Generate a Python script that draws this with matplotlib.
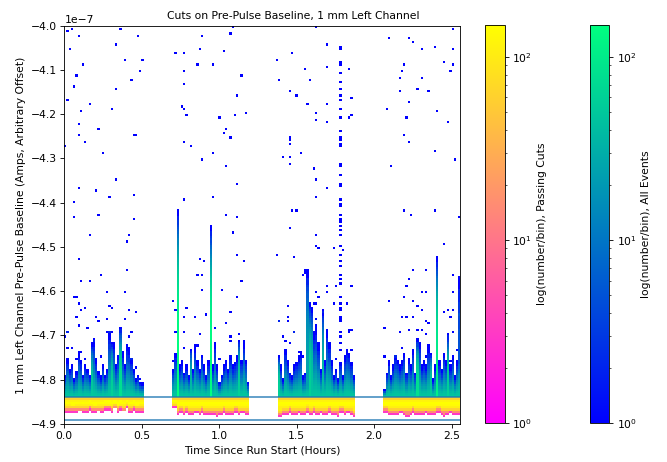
import numpy as np
import matplotlib
matplotlib.use('Agg')
import matplotlib.pyplot as plt
from matplotlib.colors import LogNorm

# data-taking periods (hours since run start)
seg_start = [0.0, 0.69, 1.375, 2.06]
seg_end = [0.505, 1.19, 1.875, 2.557]

# upper edge of the dense baseline cloud per time bin (units of 1e-7 A)
top_1 = [-4.790, -4.753, -4.776, -4.768, -4.798, -4.783, -4.738, -4.757, -4.791, -4.768,
         -4.776, -4.791, -4.753, -4.708, -4.753, -4.783, -4.794, -4.768, -4.791, -4.779,
         -4.693, -4.738, -4.715, -4.768, -4.745, -4.685, -4.738, -4.768, -4.723, -4.730,
         -4.753, -4.776, -4.798, -4.791, -4.806, -4.809]
top_2 = [-4.775, -4.740, -4.732, -4.770, -4.760, -4.785, -4.770, -4.792, -4.750, -4.777,
         -4.725, -4.760, -4.777, -4.745, -4.770, -4.792, -4.760, -4.740, -4.770, -4.717,
         -4.770, -4.807, -4.790, -4.770, -4.760, -4.777, -4.745, -4.770, -4.762, -4.747,
         -4.735, -4.755, -4.713, -4.755, -4.807]
top_3 = [-4.747, -4.770, -4.800, -4.732, -4.760, -4.785, -4.792, -4.770, -4.762, -4.747,
         -4.735, -4.792, -4.785, -4.760, -4.770, -4.700, -4.690, -4.679, -4.720, -4.777,
         -4.747, -4.760, -4.687, -4.717, -4.760, -4.792, -4.777, -4.800, -4.762, -4.792,
         -4.747, -4.730, -4.740, -4.762, -4.792]
top_4 = [-4.822, -4.785, -4.760, -4.792, -4.770, -4.745, -4.755, -4.770, -4.758, -4.740,
         -4.785, -4.755, -4.770, -4.730, -4.785, -4.770, -4.717, -4.770, -4.760, -4.770,
         -4.725, -4.740, -4.800, -4.770, -4.750, -4.760, -4.777, -4.740, -4.760, -4.702,
         -4.770, -4.745, -4.792, -4.760, -4.725]
cloud_tops = [top_1, top_2, top_3, top_4]

# lower edge of the events passing the cut, every ~0.02 h
floor_1 = [-4.875, -4.873, -4.876, -4.874, -4.872, -4.875, -4.873, -4.870, -4.874, -4.876,
           -4.872, -4.874, -4.870, -4.868, -4.873, -4.866, -4.876, -4.868, -4.872, -4.865,
           -4.874, -4.870, -4.876, -4.873, -4.875]
floor_2 = [-4.865, -4.878, -4.876, -4.880, -4.876, -4.879, -4.882, -4.877, -4.880, -4.876,
           -4.878, -4.881, -4.879, -4.880, -4.883, -4.878, -4.876, -4.879, -4.882, -4.878,
           -4.876, -4.880, -4.877, -4.879, -4.881]
floor_3 = [-4.884, -4.878, -4.881, -4.876, -4.879, -4.880, -4.877, -4.878, -4.882, -4.875,
           -4.879, -4.876, -4.880, -4.877, -4.882, -4.879, -4.876, -4.880, -4.878, -4.883,
           -4.876, -4.879, -4.877, -4.880, -4.884]
floor_4 = [-4.876, -4.880, -4.882, -4.878, -4.880, -4.877, -4.879, -4.883, -4.880, -4.876,
           -4.882, -4.878, -4.880, -4.877, -4.879, -4.882, -4.878, -4.876, -4.880, -4.883,
           -4.879, -4.877, -4.881, -4.879, -4.882]
band_floors = [floor_1, floor_2, floor_3, floor_4]

# counts per bin going down from the upper cut
band_profile = [60, 120, 150, 140, 110, 60, 15, 3]
cloud_peak = 50

# narrow bursts that reach well above the cloud
spike_t = [0.175, 0.300, 0.364, 0.735, 0.820, 0.950, 1.134, 1.380, 1.575, 1.590,
           1.604, 1.672, 2.274, 2.360, 2.410, 2.475, 2.550]
spike_top = [-4.720, -4.715, -4.683, -4.415, -4.730, -4.452, -4.710, -4.747, -4.555, -4.626,
             -4.640, -4.645, -4.709, -4.740, -4.523, -4.700, -4.565]
spike_peak = [50, 60, 80, 150, 40, 150, 60, 60, 25, 60, 45, 40, 80, 50, 110, 60, 6]

# single stray events
stray_t = [0.028, 0.050, 0.093, 0.359, 0.480, 0.893, 1.082, 1.067, 1.624, 2.508,
           0.041, 0.338, 0.712, 0.779, 0.867, 1.030, 1.467, 1.699, 2.222, 2.254,
           2.099, 2.312, 2.396, 2.508, 0.119, 0.396, 0.499, 0.854, 0.957, 1.377,
           1.835, 1.557, 1.699, 2.189, 2.454, 2.501, 0.080, 0.486, 0.779, 1.138,
           1.383, 1.577, 2.183, 2.164, 2.306, 2.499, 0.060, 0.428, 0.338, 0.779,
           1.119, 1.454, 1.499, 1.848, 2.170, 2.273, 2.344, 0.015, 1.570, 1.699,
           2.222, 0.164, 0.112, 0.306, 0.764, 0.779, 1.170, 1.624, 2.080, 2.409,
           0.783, 0.996, 1.099, 1.628, 1.693, 1.835, 1.854, 2.209, 2.480, 0.099,
           0.222, 1.048, 0.093, 0.448, 0.467, 1.028, 1.067, 1.454, 1.454, 2.189,
           0.009, 0.131, 0.779, 0.815, 1.454, 2.222, 0.254, 0.957, 1.531, 2.396,
           0.886, 1.415, 1.454, 2.521, 1.454, 1.048, 1.609, 2.112, 0.338, 1.624,
           0.099, 1.119, 1.693,
           0.202, 0.454, 0.293, 0.060, 0.779, 0.957, 1.624, 0.222, 0.060, 0.454,
           1.041, 1.112, 1.467, 1.499, 2.189, 2.235, 2.396, 2.551, 0.170, 0.415,
           0.409, 1.454, 1.080, 1.624, 2.454, 1.112, 1.377, 1.480, 1.624, 1.641,
           1.744, 1.796, 0.099, 0.867, 0.906, 1.151, 0.241, 0.409, 0.854, 0.886,
           1.538, 1.557, 1.557, 2.254, 2.331, 2.506, 0.112, 0.164, 1.138, 1.751,
           1.854, 2.222, 2.209, 0.273, 0.396, 0.886, 1.009, 1.628, 1.699, 1.699,
           2.312, 2.331, 2.506, 0.060, 0.080, 0.093, 0.131, 0.112, 0.293, 0.312,
           0.415, 0.467, 0.699, 0.712, 0.783, 1.119, 1.435, 1.641, 1.624, 1.744,
           1.822, 2.099, 2.189, 2.254, 2.273, 2.306, 2.480, 2.506, 0.080, 0.202,
           0.215, 0.273, 0.396, 0.777, 0.841, 0.919, 1.067, 1.048, 1.435, 1.383,
           1.435, 1.628, 2.183, 2.209, 2.254, 2.331, 2.351, 2.447, 2.499, 2.544,
           0.093, 0.151, 0.028, 0.009, 0.286, 0.312, 0.428, 0.415, 0.712, 0.777,
           0.867, 0.966, 1.067, 1.132, 1.486, 1.409, 1.835, 1.854, 2.067, 2.170,
           2.222, 2.286, 2.306, 2.338, 2.480, 2.506]
stray_b = [-4.011, -4.009, -4.022, -4.009, -4.022, -4.022, -4.004, -4.018, -4.001, -4.009,
           -4.052, -4.041, -4.065, -4.065, -4.052, -4.059, -4.062, -4.044, -4.026, -4.036,
           -4.026, -4.052, -4.047, -4.052, -4.087, -4.077, -4.079, -4.087, -4.089, -4.077,
           -4.097, -4.097, -4.095, -4.087, -4.083, -4.089, -4.113, -4.102, -4.105, -4.115,
           -4.124, -4.123, -4.102, -4.120, -4.120, -4.105, -4.137, -4.124, -4.144, -4.133,
           -4.156, -4.150, -4.156, -4.162, -4.150, -4.144, -4.150, -4.167, -4.178, -4.180,
           -4.173, -4.178, -4.191, -4.187, -4.185, -4.187, -4.196, -4.196, -4.187, -4.191,
           -4.205, -4.210, -4.205, -4.214, -4.217, -4.210, -4.203, -4.210, -4.217, -4.223,
           -4.232, -4.232, -4.248, -4.246, -4.248, -4.241, -4.253, -4.253, -4.259, -4.246,
           -4.271, -4.264, -4.264, -4.271, -4.266, -4.264, -4.289, -4.289, -4.289, -4.282,
           -4.302, -4.300, -4.300, -4.302, -4.311, -4.320, -4.325, -4.318, -4.347, -4.347,
           -4.368, -4.360, -4.368,
           -4.374, -4.384, -4.386, -4.396, -4.392, -4.386, -4.390, -4.426, -4.435, -4.439,
           -4.429, -4.435, -4.417, -4.417, -4.417, -4.426, -4.417, -4.435, -4.475, -4.471,
           -4.489, -4.457, -4.469, -4.471, -4.494, -4.516, -4.518, -4.523, -4.500, -4.505,
           -4.505, -4.507, -4.529, -4.529, -4.534, -4.534, -4.561, -4.552, -4.561, -4.565,
           -4.561, -4.552, -4.559, -4.552, -4.554, -4.565, -4.579, -4.579, -4.578, -4.586,
           -4.586, -4.571, -4.590, -4.602, -4.602, -4.596, -4.596, -4.602, -4.602, -4.590,
           -4.602, -4.604, -4.605, -4.613, -4.615, -4.626, -4.638, -4.644, -4.631, -4.638,
           -4.641, -4.649, -4.622, -4.644, -4.638, -4.615, -4.633, -4.615, -4.626, -4.626,
           -4.626, -4.622, -4.614, -4.622, -4.631, -4.644, -4.641, -4.641, -4.656, -4.658,
           -4.669, -4.662, -4.662, -4.656, -4.656, -4.651, -4.649, -4.674, -4.658, -4.669,
           -4.669, -4.662, -4.656, -4.656, -4.656, -4.667, -4.674, -4.649, -4.658, -4.653,
           -4.676, -4.685, -4.695, -4.703, -4.694, -4.695, -4.692, -4.704, -4.692, -4.694,
           -4.699, -4.681, -4.704, -4.699, -4.694, -4.704, -4.692, -4.686, -4.681, -4.692,
           -4.687, -4.687, -4.690, -4.699, -4.699, -4.694]

# loose events just above the cloud
fringe_t = [0.026, 0.015, 0.048, 0.084, 0.106, 0.129, 0.187, 0.241, 0.284, 0.364,
            0.413, 0.430, 0.467, 0.495, 0.699, 0.774, 0.854, 0.886, 1.004, 1.069,
            1.134, 1.177, 1.090, 1.381, 1.424, 1.452, 1.488, 1.516, 1.542, 1.617,
            1.671, 1.703, 1.757, 1.843, 1.854, 2.069, 2.101, 2.144, 2.187, 2.230,
            2.273, 2.338, 2.478, 2.499, 2.542]
fringe_b = [-4.693, -4.727, -4.727, -4.751, -4.737, -4.753, -4.712, -4.747, -4.693, -4.686,
            -4.727, -4.753, -4.772, -4.796, -4.757, -4.727, -4.723, -4.753, -4.753, -4.712,
            -4.746, -4.810, -4.776, -4.667, -4.712, -4.716, -4.693, -4.738, -4.750, -4.626,
            -4.648, -4.735, -4.753, -4.690, -4.735, -4.750, -4.772, -4.746, -4.727, -4.753,
            -4.716, -4.750, -4.705, -4.757, -4.735]

# drifting channel at ~1.78 h leaves a vertical trail of single events
streak_t = 1.783
streak_b = [-4.047, -4.051, -4.084, -4.087, -4.108, -4.130, -4.142, -4.156, -4.167, -4.187,
            -4.210, -4.239, -4.253, -4.257, -4.266, -4.275, -4.311, -4.320, -4.336, -4.356,
            -4.365, -4.392, -4.404, -4.410, -4.430, -4.437, -4.444, -4.455, -4.464, -4.475,
            -4.500, -4.518, -4.534, -4.545, -4.562, -4.573, -4.584, -4.615, -4.626, -4.640,
            -4.644, -4.658, -4.662, -4.667, -4.692, -4.705, -4.720, -4.735]

cut_hi = -4.84
cut_lo = -4.89

# histogram binning
t_edges = np.linspace(0, 2.557, 181)
b_edges = np.linspace(-4.9, -4.0, 181)
t_mid = (t_edges[:-1] + t_edges[1:]) / 2
b_mid = (b_edges[:-1] + b_edges[1:]) / 2


def cloud_column(top, peak, p):
    # counts fall off from the cut line up to the top of the column
    inside = (b_edges[:-1] >= cut_hi - 1e-9) & (b_edges[:-1] < top)
    frac = np.clip((b_mid - cut_hi) / (top - cut_hi), 0, 1)
    return np.where(inside, peak ** (1 - frac ** p), 0)


def band_column(floor):
    depth = (cut_hi - b_mid) / (cut_hi - floor)
    inside = (b_mid < cut_hi) & (depth <= 1)
    idx = np.clip((depth * len(band_profile)).astype(int), 0, len(band_profile) - 1)
    return np.where(inside, np.array(band_profile)[idx], 0)


all_counts = np.zeros((len(t_mid), len(b_mid)))
pass_counts = np.zeros_like(all_counts)

for k in range(len(seg_start)):
    cols = np.where((t_mid >= seg_start[k]) & (t_mid < seg_end[k]))[0]
    tops = cloud_tops[k]
    floors = band_floors[k]
    for j, c in enumerate(cols):
        all_counts[c] = cloud_column(tops[j * len(tops) // len(cols)], cloud_peak, 1.5)
        pass_counts[c] = band_column(floors[j * len(floors) // len(cols)])

for t, top, peak in zip(spike_t, spike_top, spike_peak):
    c = np.argmin(np.abs(t_mid - t))
    all_counts[c] = np.maximum(all_counts[c], cloud_column(top, peak, 4))

ev_t = stray_t + fringe_t + [streak_t] * len(streak_b)
ev_b = stray_b + fringe_b + streak_b
h_stray, _, _ = np.histogram2d(ev_t, ev_b, bins=[t_edges, b_edges])
all_counts = np.floor(all_counts) + h_stray + pass_counts

fig = plt.figure(figsize=(667 / 77, 462 / 77), dpi=77)
ax = fig.add_axes([0.0964, 0.0823, 0.594, 0.862])

norm_all = LogNorm(vmin=1, vmax=149)
norm_pass = LogNorm(vmin=1, vmax=149)
m_all = ax.pcolormesh(t_edges, b_edges * 1e-7, np.ma.masked_less(all_counts.T, 1),
                      cmap='winter', norm=norm_all)
m_pass = ax.pcolormesh(t_edges, b_edges * 1e-7, np.ma.masked_less(pass_counts.T, 1),
                       cmap='spring', norm=norm_pass)

ax.axhline(cut_hi * 1e-7, color='C0', lw=1.5, alpha=0.85)
ax.axhline(cut_lo * 1e-7, color='C0', lw=1.5, alpha=0.85)

ax.set_xlim(0, 2.557)
ax.set_ylim(-4.9e-7, -4.0e-7)
ax.set_xlabel('Time Since Run Start (Hours)')
ax.set_ylabel('1 mm Left Channel Pre-Pulse Baseline (Amps, Arbitrary Offset)')
fig.text(0.4393, 0.959, 'Cuts on Pre-Pulse Baseline, 1 mm Left Channel',
         ha='center', va='baseline', fontsize=10)

cax1 = fig.add_axes([0.7271, 0.0838, 0.030, 0.862])
cb1 = fig.colorbar(m_pass, cax=cax1)
cb1.set_label('log(number/bin), Passing Cuts')
cax2 = fig.add_axes([0.8846, 0.0838, 0.029, 0.862])
cb2 = fig.colorbar(m_all, cax=cax2)
cb2.set_label('log(number/bin), All Events')

fig.savefig('out.png', dpi=77)
